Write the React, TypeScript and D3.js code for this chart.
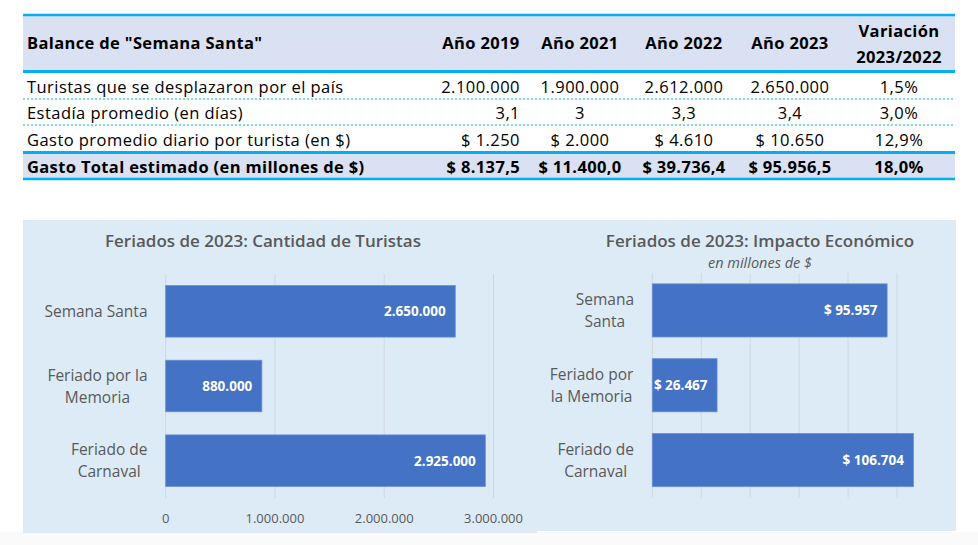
import React from "react";
import * as d3 from "d3";

// ---------- Table data ----------
const tableTitle = 'Balance de "Semana Santa"';
const yearHeaders = ["Año 2019", "Año 2021", "Año 2022", "Año 2023"];
const variationHeader = ["Variación", "2023/2022"];
const rowLabels = [
  "Turistas que se desplazaron por el país",
  "Estadía promedio (en días)",
  "Gasto promedio diario por turista (en $)",
];
const touristsRow = ["2.100.000", "1.900.000", "2.612.000", "2.650.000", "1,5%"];
const stayRow = ["3,1", "3", "3,3", "3,4", "3,0%"];
const spendRow = ["$ 1.250", "$ 2.000", "$ 4.610", "$ 10.650", "12,9%"];
const totalLabel = "Gasto Total estimado (en millones de $)";
const totalRow = ["$ 8.137,5", "$ 11.400,0", "$ 39.736,4", "$ 95.956,5", "18,0%"];

// ---------- Chart data ----------
const categories = ["Semana Santa", "Feriado por la Memoria", "Feriado de Carnaval"];
const touristValues = [2650000, 880000, 2925000];
const impactValues = [95957, 26467, 106704];
const leftLabelLines = [["Semana Santa"], ["Feriado por la", "Memoria"], ["Feriado de", "Carnaval"]];
const rightLabelLines = [["Semana", "Santa"], ["Feriado por", "la Memoria"], ["Feriado de", "Carnaval"]];
const leftTicks = [0, 1000000, 2000000, 3000000];
const rightTicks = [0, 20000, 40000, 60000, 80000, 100000];
const leftTitle = "Feriados de 2023: Cantidad de Turistas";
const rightTitle = "Feriados de 2023: Impacto Económico";
const rightSubtitle = "en millones de $";

const locale = d3.formatLocale({
  decimal: ",",
  thousands: ".",
  grouping: [3],
  currency: ["$ ", ""],
});
const fmtInt = locale.format(",.0f");
const fmtMoney = locale.format("$,.0f");

const FONT = "'Open Sans', 'Noto Sans', sans-serif";
const CYAN = "#00B0F0";
const BAR = "#4472C4";
const GRAY = "#595959";

function Table() {
  const left = 23;
  const right = 955;
  const labelX = 27;
  const colX = [520, 580, 684, 790, 899];
  const colAnchor: ("end" | "middle")[] = ["end", "middle", "middle", "middle", "middle"];
  const rowBaselines = [93, 119, 146];
  const dataRows = [touristsRow, stayRow, spendRow];
  const fs = 16.5;
  const ls = 0.45;
  const lsb = 0.35;
  return (
    <g fontFamily={FONT} fill="#000">
      <rect x={left} y={16} width={right - left} height={55} fill="#D9E1F2" />
      <rect x={left} y={153} width={right - left} height={25} fill="#D9E1F2" />
      <line x1={left} x2={right} y1={15} y2={15} stroke={CYAN} strokeWidth={2.5} />
      <line x1={left} x2={right} y1={71.5} y2={71.5} stroke={CYAN} strokeWidth={3} />
      <line x1={left} x2={right} y1={99} y2={99} stroke={CYAN} strokeWidth={1} strokeDasharray="2,2" />
      <line x1={left} x2={right} y1={125} y2={125} stroke={CYAN} strokeWidth={1} strokeDasharray="2,2" />
      <line x1={left} x2={right} y1={152.5} y2={152.5} stroke={CYAN} strokeWidth={3} />
      <line x1={left} x2={right} y1={179} y2={179} stroke={CYAN} strokeWidth={2.5} />

      <text x={labelX} y={49} fontSize={fs} fontWeight={700} letterSpacing={lsb}>{tableTitle}</text>
      {yearHeaders.map((h, i) => (
        <text key={h} x={i === 0 ? 481 : colX[i]} y={49} fontSize={fs} fontWeight={700} letterSpacing={lsb} textAnchor="middle">{h}</text>
      ))}
      <text x={colX[4]} y={37} fontSize={fs} fontWeight={700} letterSpacing={lsb} textAnchor="middle">{variationHeader[0]}</text>
      <text x={colX[4]} y={63} fontSize={fs} fontWeight={700} letterSpacing={lsb} textAnchor="middle">{variationHeader[1]}</text>

      {rowLabels.map((l, r) => (
        <text key={l} x={labelX} y={rowBaselines[r]} fontSize={fs} letterSpacing={ls}>{l}</text>
      ))}
      {dataRows.map((row, r) =>
        row.map((v, c) => (
          <text key={r + "-" + c} x={colX[c]} y={rowBaselines[r]} fontSize={fs} letterSpacing={ls} textAnchor={colAnchor[c]}>{v}</text>
        ))
      )}
      <text x={labelX} y={173} fontSize={fs} fontWeight={700} letterSpacing={lsb}>{totalLabel}</text>
      {totalRow.map((v, c) => (
        <text key={"t" + c} x={colX[c]} y={173} fontSize={fs} fontWeight={700} letterSpacing={lsb} textAnchor={colAnchor[c]}>{v}</text>
      ))}
    </g>
  );
}

type BarChartProps = {
  values: number[];
  labelLines: string[][];
  x0: number;
  x1: number;
  domainMax: number;
  y0: number;
  y1: number;
  padInner: number;
  ticks: number[];
  showTickLabels: boolean;
  fmt: (v: number) => string;
  labelRight: number;
};

function LabelBlock({ lines, right, cy, lh }: { lines: string[]; right: number; cy: number; lh: number }) {
  const ref = React.useRef<SVGGElement>(null);
  const [shift, setShift] = React.useState(0);
  React.useLayoutEffect(() => {
    if (!ref.current) return;
    const bb = ref.current.getBBox();
    setShift(right - (bb.x + bb.width));
  }, [right]);
  const n = lines.length;
  return (
    <g ref={ref} transform={`translate(${shift},0)`}>
      {lines.map((l, k) => (
        <text key={l} x={0} y={cy + 5.5 + (k - (n - 1) / 2) * lh} fontSize={15.5} fill={GRAY} textAnchor="middle">
          {l}
        </text>
      ))}
    </g>
  );
}

function BarChart(p: BarChartProps) {
  const x = d3.scaleLinear().domain([0, p.domainMax]).range([p.x0, p.x1]);
  const y = d3
    .scaleBand<string>()
    .domain(categories)
    .range([p.y0, p.y1])
    .paddingInner(p.padInner)
    .paddingOuter(p.padInner / 2);
  return (
    <g fontFamily={FONT}>
      {p.ticks.map((t) => (
        <line key={t} x1={x(t)} x2={x(t)} y1={p.y0} y2={p.y1} stroke="#D0D7DE" strokeWidth={1} />
      ))}
      {categories.map((c, i) => {
        const by = y(c)!;
        const bw = y.bandwidth();
        const xe = x(p.values[i]);
        const cy = by + bw / 2;
        return (
          <g key={c}>
            <rect x={x(0)} y={by} width={xe - x(0)} height={bw} fill={BAR} stroke="#6A8ED6" strokeWidth={0.8} />
            <text x={xe - 9.5} y={cy + 5} fill="#fff" fontSize={13.5} fontWeight={700} textAnchor="end">
              {p.fmt(p.values[i])}
            </text>
            <LabelBlock lines={p.labelLines[i]} right={p.labelRight} cy={cy} lh={22} />
          </g>
        );
      })}
      {p.showTickLabels &&
        p.ticks.map((t) => (
          <text key={"tl" + t} x={x(t)} y={523} fontSize={13} fill={GRAY} textAnchor="middle">
            {fmtInt(t)}
          </text>
        ))}
    </g>
  );
}

export default function App() {
  return (
    <svg width={978} height={545} style={{ position: "absolute", left: 0, top: 0, background: "#fff" }}>
      <rect x={0} y={0} width={978} height={545} fill="#fff" />
      <rect x={0} y={532} width={978} height={13} fill="#FAFAFA" />
      <Table />
      <rect x={23} y={220} width={514} height={313} fill="#DDEBF7" />
      <rect x={536} y={220} width={420} height={311} fill="#DDEBF7" />

      <text x={263} y={247} fontFamily={FONT} fontSize={17} fontWeight={600} fill={GRAY} textAnchor="middle">
        {leftTitle}
      </text>
      <BarChart
        values={touristValues}
        labelLines={leftLabelLines}
        x0={165.7}
        x1={493.5}
        domainMax={3000000}
        y0={274}
        y1={498}
        padInner={0.31}
        ticks={leftTicks}
        showTickLabels={true}
        fmt={fmtInt}
        labelRight={147.5}
      />

      <text x={760} y={247} fontFamily={FONT} fontSize={17} fontWeight={600} fill={GRAY} textAnchor="middle">
        {rightTitle}
      </text>
      <text x={760} y={268} fontFamily={FONT} fontSize={14.5} fontStyle="italic" fill={GRAY} textAnchor="middle">
        {rightSubtitle}
      </text>
      <BarChart
        values={impactValues}
        labelLines={rightLabelLines}
        x0={652.3}
        x1={897}
        domainMax={100000}
        y0={273}
        y1={497.5}
        padInner={0.29}
        ticks={rightTicks}
        showTickLabels={false}
        fmt={fmtMoney}
        labelRight={634}
      />
    </svg>
  );
}
